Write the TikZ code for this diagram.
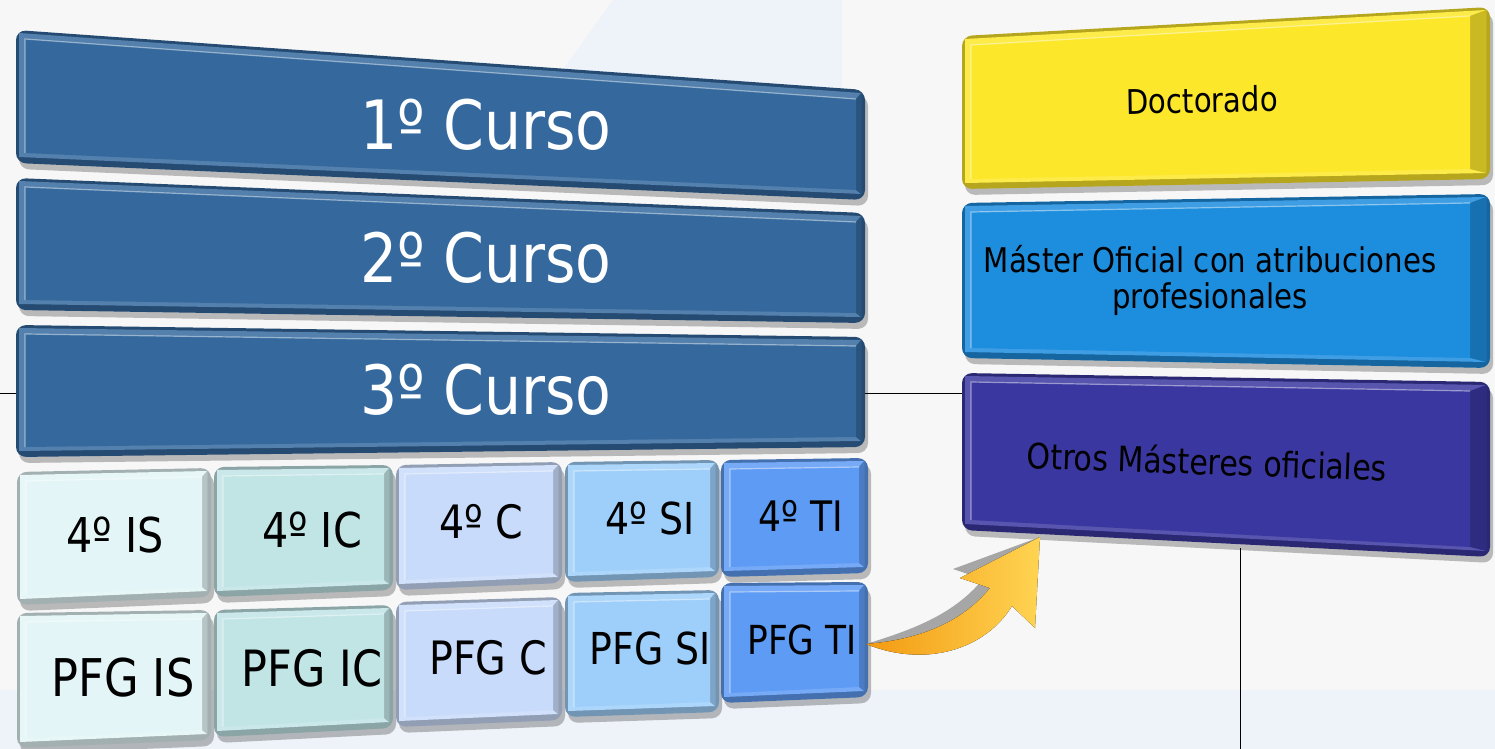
\documentclass[tikz,border=0pt]{standalone}
\usepackage{fontspec}
\setmainfont{DejaVu Sans}[FakeStretch=0.86]
\usetikzlibrary{calc}

\definecolor{bgcol}{HTML}{F7F7F8}
\definecolor{bandcol}{HTML}{EEF2F9}
\definecolor{curso}{HTML}{35699E}
\definecolor{iscol}{HTML}{E3F5F6}
\definecolor{iccol}{HTML}{C1E4E5}
\definecolor{ccol}{HTML}{C9DBFA}
\definecolor{sicol}{HTML}{9ECFFA}
\definecolor{ticol}{HTML}{5E9BF4}
\definecolor{doctcol}{HTML}{FDE72A}
\definecolor{mastcol}{HTML}{1D8DDE}
\definecolor{otroscol}{HTML}{3A37A0}
\definecolor{arrcol}{HTML}{F39A12}
\definecolor{arrlight}{HTML}{FFD452}

% bevelled slab: [right edge], face colour, then corners tl, tr, br, bl
\newcommand{\slab}[6][9]{%
  \fill[black, opacity=0.25, rounded corners=5pt, shift={(3,6)}] #3 -- #4 -- #5 -- #6 -- cycle;
  \fill[#2!72!black, rounded corners=5pt] #3 -- #4 -- #5 -- #6 -- cycle;
  \fill[#2!85!white] ($#3+(3,3)$) -- ($#4+(-4,3)$) -- ($#5+(-4,-6)$) -- ($#6+(3,-6)$) -- cycle;
  \fill[#2!80!black] ($#4+(-#1,9)$) -- ($#4+(-4,3)$) -- ($#5+(-4,-6)$) -- ($#5+(-#1,-10)$) -- cycle;
  \fill[#2] ($#3+(9,9)$) -- ($#4+(-#1,9)$) -- ($#5+(-#1,-10)$) -- ($#6+(9,-10)$) -- cycle;
  \draw[white, opacity=0.45, line width=0.6pt] ($#6+(9,-10)$) -- ($#3+(9,9)$) -- ($#4+(-#1,9)$);
}

\begin{document}
\begin{tikzpicture}[x=0.5pt,y=-0.5pt,
    txt/.style={text=black, align=center, inner sep=0pt},
    big/.style={font=\fontsize{34}{38}\selectfont, text=white}]
\useasboundingbox (0,0) rectangle (1495,749);

% background
\fill[bgcol] (0,0) rectangle (1495,749);
\fill[bandcol] (0,690) rectangle (1495,749);
\fill[bandcol] (613,0) -- (842,0) -- (842,95) -- (545,95) -- cycle;
\draw[line width=0.5pt] (0,393) -- (962,393);
\draw[line width=0.5pt] (1240,548) -- (1240,749);

% years 1-3
\slab{curso}{(16,30)}{(865,90)}{(865,200)}{(16,163)}
\slab{curso}{(16,178)}{(865,213)}{(865,323)}{(16,310)}
\slab{curso}{(16,325)}{(865,337)}{(865,447)}{(16,457)}

% 4th year
\slab{iscol}{(17,472)}{(211,468)}{(211,597)}{(17,605)}
\slab{iccol}{(214,467)}{(393,465)}{(393,590)}{(214,597)}
\slab{ccol}{(396,465)}{(562,462)}{(562,583)}{(396,590)}
\slab{sicol}{(565,462)}{(719,460)}{(719,577)}{(565,582)}
\slab{ticol}{(721,460)}{(868,458)}{(868,573)}{(721,577)}

% PFG
\slab{iscol}{(17,613)}{(211,610)}{(211,740)}{(17,748)}
\slab{iccol}{(214,610)}{(393,605)}{(393,728)}{(214,737)}
\slab{ccol}{(396,602)}{(562,597)}{(562,720)}{(396,727)}
\slab{sicol}{(565,593)}{(719,590)}{(719,712)}{(565,717)}
\slab{ticol}{(721,583)}{(868,582)}{(868,697)}{(721,703)}

% right column
\slab[20]{doctcol}{(962,36)}{(1490,7)}{(1490,179)}{(962,189)}
\slab[20]{mastcol}{(962,203)}{(1490,194)}{(1490,368)}{(962,358)}
\slab[20]{otroscol}{(962,373)}{(1490,382)}{(1490,557)}{(962,530)}

% labels
\node[txt, big] (c1) at (486,125) {1º Curso};
\node[txt, big] (c2) at (486,258) {2º Curso};
\node[txt, big] (c3) at (486,390) {3º Curso};

\node[txt, font=\fontsize{24}{28}\selectfont] (is4) at (115,535) {4º IS};
\node[txt, font=\fontsize{24}{28}\selectfont] (ic4) at (312,530) {4º IC};
\node[txt, font=\fontsize{23}{28}\selectfont] (c4) at (481,522) {4º C};
\node[txt, font=\fontsize{22}{28}\selectfont] (si4) at (650,518) {4º SI};
\node[txt, font=\fontsize{21}{28}\selectfont] (ti4) at (801,516) {4º TI};

\node[txt, font=\fontsize{26}{30}\selectfont] (isp) at (123,678) {PFG IS};
\node[txt, font=\fontsize{25}{30}\selectfont] (icp) at (312,668) {PFG IC};
\node[txt, font=\fontsize{23}{28}\selectfont] (cp) at (488,658) {PFG C};
\node[txt, font=\fontsize{22}{28}\selectfont] (sip) at (650,648) {PFG SI};
\node[txt, font=\fontsize{20}{26}\selectfont] (tip) at (802,640) {PFG TI};

\node[txt, font=\fontsize{17}{20}\selectfont, rotate=1] (doct) at (1202,100) {Doctorado};
\node[txt, font=\fontsize{17}{18}\selectfont] (mast) at (1210,280) {Máster Oficial con atribuciones\\profesionales};
\node[txt, font=\fontsize{17.5}{20}\selectfont, rotate=-2] (otros) at (1207,461) {Otros Másteres oficiales};

% arrow to the masters
\coordinate (tail) at (866,644);
\coordinate (head) at (1040,537);
\fill[gray!70, shift={(-7,-9)}] (tail) .. controls (925,668) and (985,650) .. (1012,606)
  -- (1035,628) -- (head) -- (960,578) -- (990,588)
  .. controls (960,625) and (915,640) .. (tail) -- cycle;
\fill[left color=arrcol, right color=arrlight] (tail) .. controls (925,668) and (985,650) .. (1012,606)
  -- (1035,628) -- (head) -- (960,578) -- (990,588)
  .. controls (960,625) and (915,640) .. (tail) -- cycle;
\end{tikzpicture}
\end{document}
